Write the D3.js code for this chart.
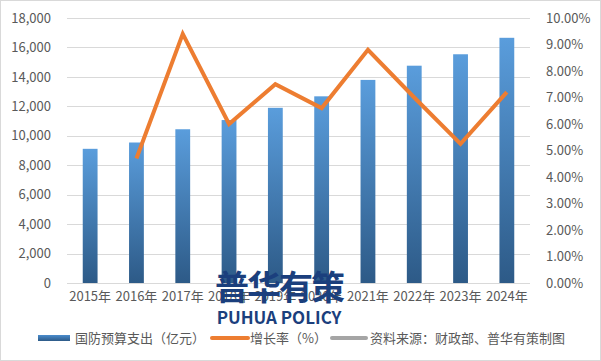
<!DOCTYPE html>
<html>
<head>
<meta charset="utf-8">
<script src="https://cdn.jsdelivr.net/npm/d3@7"></script>
<style>
  body { margin: 0; background: #fff; }
  text { font-family: "Noto Sans CJK SC", "Liberation Sans", sans-serif; }
</style>
</head>
<body>
<svg id="chart" width="601" height="361"></svg>
<script>
const years = ["2015年", "2016年", "2017年", "2018年", "2019年", "2020年", "2021年", "2022年", "2023年", "2024年"];
const budget = [9114, 9543, 10443, 11069, 11899, 12680, 13795, 14760, 15537, 16655];
const growth = [null, 4.7, 9.4, 6.0, 7.5, 6.6, 8.8, 7.0, 5.25, 7.2];
const leftTicks = [0, 2000, 4000, 6000, 8000, 10000, 12000, 14000, 16000, 18000];
const rightTicks = [0, 1, 2, 3, 4, 5, 6, 7, 8, 9, 10];
const legendNames = ["国防预算支出（亿元）", "增长率（%）", "资料来源：财政部、普华有策制图"];

const width = 601, height = 361;
const margin = { left: 67, right: 71, top: 18, bottom: 78 };

const svg = d3.select('#chart');

// outer border
svg.append('rect').attr('x', 0.5).attr('y', 0.5).attr('width', width - 1).attr('height', height - 1)
    .attr('fill', '#fff').attr('stroke', '#d9d9d9');

const defs = svg.append('defs');
const grad = defs.append('linearGradient').attr('id', 'barGrad')
    .attr('x1', 0).attr('y1', 0).attr('x2', 0).attr('y2', 1);
grad.append('stop').attr('offset', '0%').attr('stop-color', '#5a9ddc');
grad.append('stop').attr('offset', '100%').attr('stop-color', '#2d5a87');
const legGrad = defs.append('linearGradient').attr('id', 'legGrad')
    .attr('x1', 0).attr('y1', 0).attr('x2', 0).attr('y2', 1);
legGrad.append('stop').attr('offset', '0%').attr('stop-color', '#4a8ccd');
legGrad.append('stop').attr('offset', '100%').attr('stop-color', '#2d5a87');

var xScale = d3.scaleBand()
    .domain(years)
    .range([margin.left, width - margin.right])
    .paddingInner(0.68).paddingOuter(0.34);

var yLeft = d3.scaleLinear().domain([0, 18000]).range([height - margin.bottom, margin.top]);
var yRight = d3.scaleLinear().domain([0, 10]).range([height - margin.bottom, margin.top]);

// gridlines
svg.append('g').selectAll('line').data(leftTicks).enter().append('line')
    .attr('x1', margin.left).attr('x2', width - margin.right)
    .attr('y1', d => Math.round(yLeft(d)) + 0.5).attr('y2', d => Math.round(yLeft(d)) + 0.5)
    .attr('stroke', '#d9d9d9').attr('stroke-width', 1);

// left axis
const gL = svg.append('g').attr('transform', 'translate(' + (margin.left - 13) + ',0)')
    .call(d3.axisLeft(yLeft).tickValues(leftTicks).tickSize(0).tickFormat(d3.format(',')));
gL.select('.domain').remove();
gL.selectAll('text').attr('font-size', 13).attr('fill', '#595959')
    .attr('font-family', '"Liberation Sans", sans-serif');

// right axis
const gR = svg.append('g').attr('transform', 'translate(' + (width - margin.right + 13) + ',0)')
    .call(d3.axisRight(yRight).tickValues(rightTicks).tickSize(0).tickFormat(d => d.toFixed(2) + '%'));
gR.select('.domain').remove();
gR.selectAll('text').attr('font-size', 13).attr('fill', '#595959')
    .attr('font-family', '"Liberation Sans", sans-serif');

// bars
svg.append('g').selectAll('rect').data(budget).enter().append('rect')
    .attr('x', (d, i) => xScale(years[i]))
    .attr('y', d => yLeft(d))
    .attr('width', xScale.bandwidth())
    .attr('height', d => yLeft(0) - yLeft(d))
    .attr('fill', 'url(#barGrad)');

// x axis labels
const gX = svg.append('g').attr('transform', 'translate(0,' + (height - margin.bottom + 6) + ')')
    .call(d3.axisBottom(xScale).tickSize(0));
gX.select('.domain').remove();
gX.selectAll('text').attr('font-size', 13).attr('fill', '#595959');

// growth line
const pts = growth.map((g, i) => ({ x: xScale(years[i]) + xScale.bandwidth() / 2, g: g })).filter(p => p.g != null);
var line = d3.line().x(d => d.x).y(d => yRight(d.g));
svg.append('path').datum(pts).attr('d', line)
    .attr('fill', 'none').attr('stroke', '#ed7d31').attr('stroke-width', 4)
    .attr('stroke-linejoin', 'miter').attr('stroke-linecap', 'butt');

// legend
const leg = svg.append('g').attr('transform', 'translate(0,338)');
leg.append('rect').attr('x', 38).attr('y', -3).attr('width', 32).attr('height', 6).attr('fill', 'url(#legGrad)');
leg.append('line').attr('x1', 212).attr('x2', 248).attr('y1', 0).attr('y2', 0)
    .attr('stroke', '#ed7d31').attr('stroke-width', 4).attr('stroke-linecap', 'round');
leg.append('line').attr('x1', 332).attr('x2', 366).attr('y1', 0).attr('y2', 0)
    .attr('stroke', '#a5a5a5').attr('stroke-width', 4).attr('stroke-linecap', 'round');
const legX = [75, 250, 370];
leg.selectAll('text.lg').data(legendNames).enter().append('text')
    .attr('class', 'lg').attr('x', (d, i) => legX[i]).attr('y', 0).attr('dy', '0.35em')
    .attr('font-size', 13).attr('fill', '#595959').text(d => d);

// watermark (sits over the axis labels, as in the source image)
svg.append('text').attr('x', 279).attr('y', 300).attr('text-anchor', 'middle')
    .attr('font-size', 34).attr('font-weight', 'bold').attr('fill', '#1b3f7d')
    .attr('letter-spacing', -2).text('普华有策');
svg.append('text').attr('x', 279).attr('y', 324).attr('text-anchor', 'middle')
    .attr('font-size', 17).attr('font-weight', 'bold').attr('fill', '#1b3f7d')
    .attr('font-family', '"Open Sans", sans-serif').text('PUHUA POLICY');
</script>
</body>
</html>
